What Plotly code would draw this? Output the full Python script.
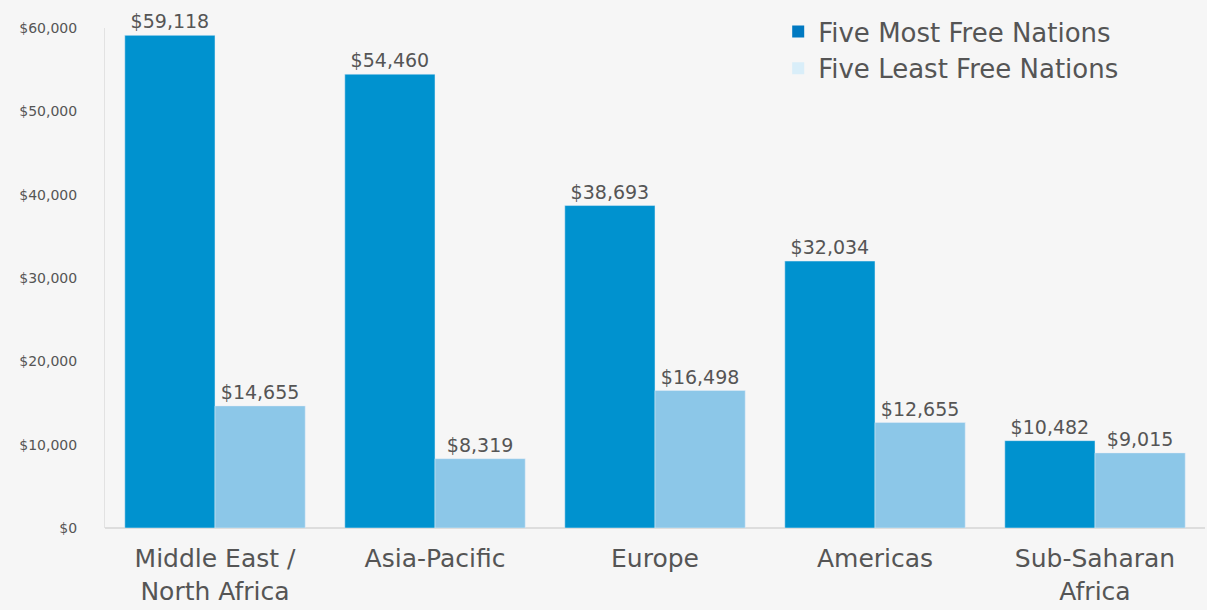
import plotly.graph_objects as go

regions = ["Middle East /<br>North Africa", "Asia-Pacific", "Europe", "Americas", "Sub-Saharan<br>Africa"]
most_free = [59118, 54460, 38693, 32034, 10482]
least_free = [14655, 8319, 16498, 12655, 9015]
y_ticks = [0, 10000, 20000, 30000, 40000, 50000, 60000]

dark_blue = "#0092cf"
light_blue = "#8cc7e8"
text_gray = "#555555"
font_name = "DejaVu Sans"

fig = go.Figure()
fig.add_trace(go.Bar(
    x=regions, y=most_free, name="Five Most Free Nations",
    marker_color=dark_blue, showlegend=False,
    text=[f"${v:,}" for v in most_free], textposition="outside",
    textfont=dict(size=19, color=text_gray), cliponaxis=False
))
fig.add_trace(go.Bar(
    x=regions, y=least_free, name="Five Least Free Nations",
    marker_color=light_blue, showlegend=False,
    text=[f"${v:,}" for v in least_free], textposition="outside",
    textfont=dict(size=19, color=text_gray), cliponaxis=False
))
# legend swatches
fig.add_trace(go.Scatter(x=[None], y=[None], mode="markers", name="Five Most Free Nations",
                         marker=dict(symbol="square", size=14, color="#0079c1")))
fig.add_trace(go.Scatter(x=[None], y=[None], mode="markers", name="Five Least Free Nations",
                         marker=dict(symbol="square", size=14, color="#d9eef9")))

fig.update_layout(
    width=1207, height=610,
    margin=dict(l=105, r=2, t=28, b=82),
    paper_bgcolor="#f6f6f6", plot_bgcolor="#f6f6f6",
    font=dict(family=font_name, color=text_gray),
    barmode="group", bargap=0.18, bargroupgap=0,
    legend=dict(x=0.612, y=1.04, xanchor="left", yanchor="top",
                font=dict(size=26, color=text_gray), bgcolor="rgba(0,0,0,0)",
                tracegroupgap=0, itemsizing="constant"),
    xaxis=dict(tickfont=dict(size=25, color=text_gray), showline=False, ticks="",
               ticklabelstandoff=13, automargin=False),
    yaxis=dict(range=[0, 60000], tickvals=y_ticks,
               ticktext=[f"${v:,}" for v in y_ticks],
               tickfont=dict(size=14, color=text_gray),
               showgrid=False, showline=True, linecolor="#e2e2e2", linewidth=1,
               zeroline=True, zerolinecolor="#dddddd", zerolinewidth=1.5,
               ticklabelstandoff=24, automargin=False),
)

fig.write_html("out.html", config={"displayModeBar": False},
               post_script="document.body.style.margin='0';")
